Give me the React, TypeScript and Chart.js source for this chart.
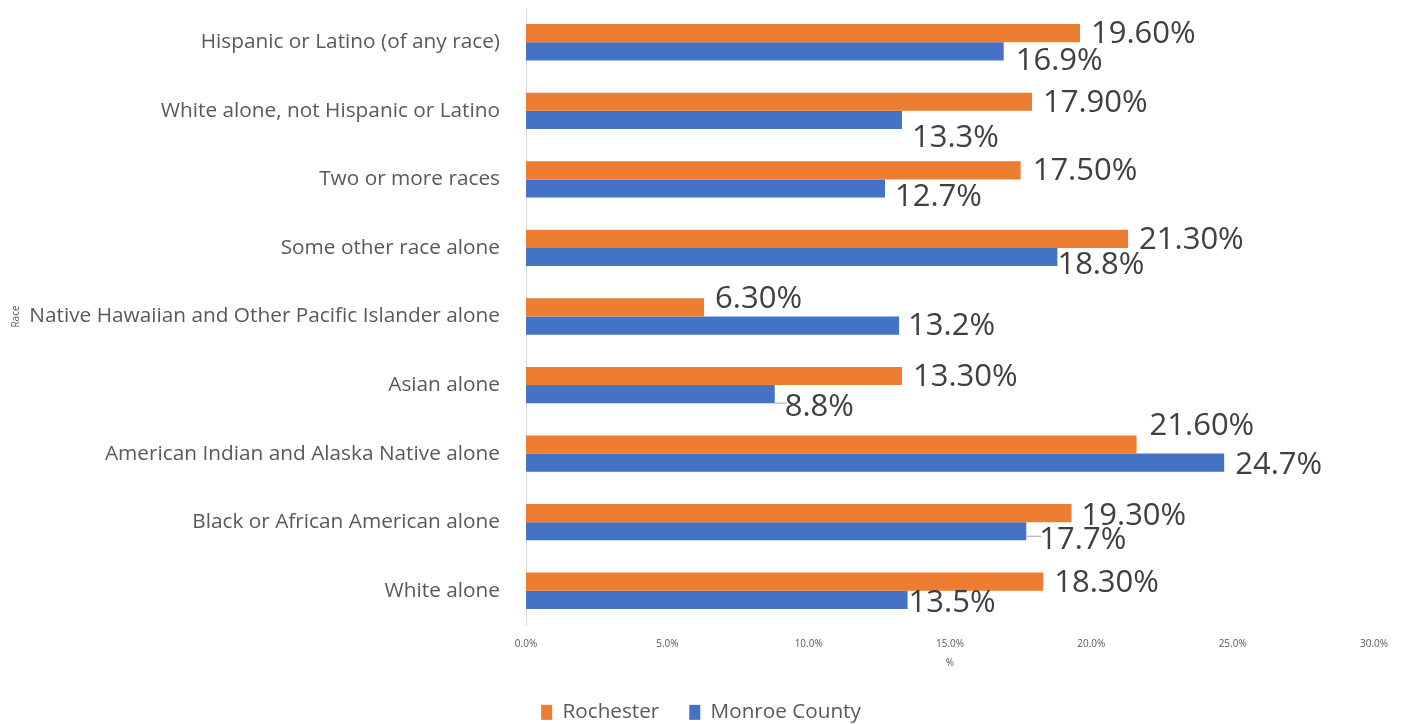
import React, { useEffect, useRef } from "react";
import { Chart, registerables } from "chart.js";

Chart.register(...registerables);

const categories = [
  "Hispanic or Latino (of any race)",
  "White alone, not Hispanic or Latino",
  "Two or more races",
  "Some other race alone",
  "Native Hawaiian and Other Pacific Islander alone",
  "Asian alone",
  "American Indian and Alaska Native alone",
  "Black or African American alone",
  "White alone",
];
const rochester = [19.6, 17.9, 17.5, 21.3, 6.3, 13.3, 21.6, 19.3, 18.3];
const monroe = [16.9, 13.3, 12.7, 18.8, 13.2, 8.8, 24.7, 17.7, 13.5];
const seriesNames = ["Rochester", "Monroe County"];
const xMin = 0;
const xMax = 30;
const xStep = 5;

// label placement tweaks (pixels), mimicking the manually placed labels
const rochLabelDx = [11, 11, 12, 11, 11, 11, 13, 10, 11];
const rochLabelDy = [1, 1, 1, 1, -8, 1, -18, 3, 2];
const monLabelDx = [12, 10, 10, 0, 9, 10, 11, 13, 1];
const monLabelDy = [10, 18, 9, 8, 1, 13, 2, 9, 3];
const monLeader = [false, false, false, false, false, true, false, true, false];

const TEXT = "#595959";
const LABEL = "#404040";
const FONT = "'Open Sans', 'Liberation Sans', sans-serif";

const labelPlugin = {
  id: "barLabels",
  afterDatasetsDraw(chart: any) {
    const ctx = chart.ctx;
    ctx.save();
    ctx.font = `31px ${FONT}`;
    ctx.fillStyle = LABEL;
    ctx.textBaseline = "middle";
    ctx.textAlign = "left";
    const cfg = [
      { dx: rochLabelDx, dy: rochLabelDy, fmt: (v: number) => v.toFixed(2) + "%", leader: null },
      { dx: monLabelDx, dy: monLabelDy, fmt: (v: number) => v.toFixed(1) + "%", leader: monLeader },
    ];
    chart.data.datasets.forEach((ds: any, di: number) => {
      const meta = chart.getDatasetMeta(di);
      meta.data.forEach((bar: any, i: number) => {
        const c = cfg[di];
        const x = bar.x + c.dx[i];
        const y = bar.y + c.dy[i];
        if (c.leader && c.leader[i]) {
          ctx.strokeStyle = "#a6a6a6";
          ctx.lineWidth = 1;
          ctx.beginPath();
          ctx.moveTo(bar.x, y - 4);
          ctx.lineTo(x + 2, y - 4);
          ctx.stroke();
        }
        ctx.fillText(c.fmt(ds.data[i]), x, y);
      });
    });
    ctx.restore();
  },
};

// keep the legend compact in the layout, then place it at the bottom
const legendPlacePlugin = {
  id: "legendPlace",
  beforeLayout(chart: any) {
    const lg = chart.legend;
    if (lg && !lg._patchedFit) {
      const orig = lg.fit.bind(lg);
      lg.fit = function () {
        orig();
        this.height = 44;
      };
      lg._patchedFit = true;
    }
  },
  afterLayout(chart: any) {
    const lg = chart.legend;
    if (lg) {
      lg.top = 672;
      lg.bottom = 724;
      lg.height = 52;
      lg.left += 14;
      lg.right += 14;
    }
  },
};

export default function App() {
  const ref = useRef<HTMLCanvasElement>(null);
  useEffect(() => {
    if (!ref.current) return;
    const chart = new Chart(ref.current, {
      type: "bar",
      data: {
        labels: categories,
        datasets: [
          {
            label: seriesNames[0],
            data: rochester,
            backgroundColor: "#ED7D31",
            categoryPercentage: 0.53,
            barPercentage: 1,
          },
          {
            label: seriesNames[1],
            data: monroe,
            backgroundColor: "#4472C4",
            categoryPercentage: 0.53,
            barPercentage: 1,
          },
        ],
      },
      options: {
        indexAxis: "y",
        animation: false,
        responsive: false,
        maintainAspectRatio: false,
        layout: { padding: { left: 0, right: 35, top: 8, bottom: 0 } },
        plugins: {
          tooltip: { enabled: false },
          legend: {
            position: "bottom",
            labels: {
              color: TEXT,
              font: { family: FONT, size: 20.7 },
              boxWidth: 11,
              boxHeight: 15,
              padding: 30,
            },
          },
        },
        scales: {
          x: {
            min: xMin,
            max: xMax,
            ticks: {
              stepSize: xStep,
              color: TEXT,
              font: { family: FONT, size: 10 },
              padding: 5,
              callback: (v: any) => Number(v).toFixed(1) + "%",
            },
            grid: { display: false },
            border: { display: false },
            title: {
              display: true,
              text: "%",
              color: TEXT,
              font: { family: FONT, size: 10 },
              padding: { top: 0, bottom: 11 },
            },
            afterFit: (s: any) => {
              s.height = 55;
            },
          },
          y: {
            ticks: {
              color: TEXT,
              font: { family: FONT, size: 20.8 },
              padding: 18,
            },
            grid: { display: false },
            border: { display: true, color: "#d9d9d9" },
            title: {
              display: true,
              text: "Race",
              color: TEXT,
              font: { family: FONT, size: 10 },
              padding: { top: 10, bottom: 0 },
            },
            afterFit: (s: any) => {
              s.width = 526;
              s.paddingTop = 0;
              s.paddingBottom = 0;
            },
          },
        },
      },
      plugins: [labelPlugin, legendPlacePlugin],
    });
    return () => chart.destroy();
  }, []);
  return (
    <div style={{ position: "fixed", left: 0, top: 0, width: 1409, height: 724, background: "#fff" }}>
      <canvas ref={ref} width={1409} height={724} />
    </div>
  );
}
